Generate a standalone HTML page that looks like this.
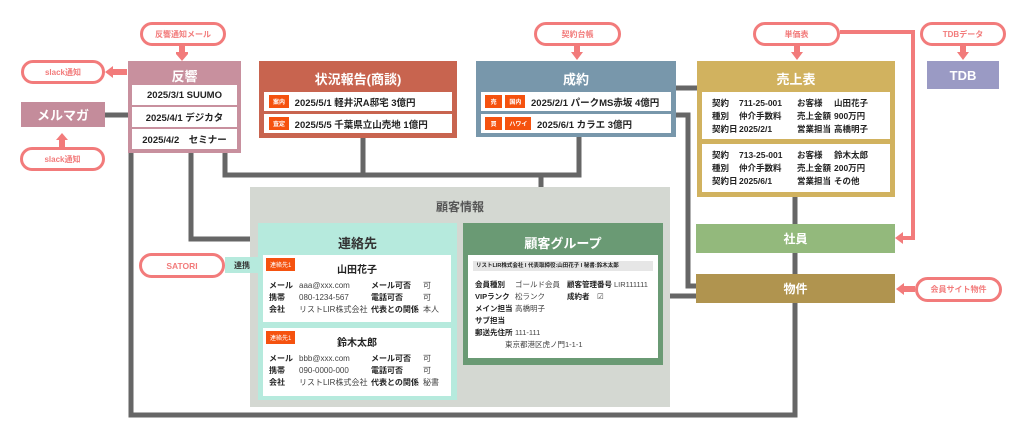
<!DOCTYPE html>
<html><head><meta charset="utf-8">
<style>
*{margin:0;padding:0;box-sizing:border-box}
body{width:1024px;height:437px;background:#fff;position:relative;overflow:hidden;font-family:"Liberation Sans","Noto Sans CJK JP",sans-serif;color:#222}
.a{position:absolute}
.pill{position:absolute;border:3px solid #f27b7b;border-radius:13px;background:#fff;color:#f27b7b;font-size:8px;font-weight:bold;display:flex;align-items:center;justify-content:center;white-space:nowrap}
.box{position:absolute;color:#fff;font-weight:bold}
.ttl{position:absolute;left:0;right:0;text-align:center;font-size:13px}
.row{position:absolute;background:#fff;color:#222;font-size:9.5px;font-weight:bold;display:flex;align-items:center;white-space:nowrap}
.tag{background:#f5520f;color:#fff;font-size:6px;padding:2px 4px;margin-right:3px}
.sm{font-size:8px;line-height:12px;color:#222;position:absolute;white-space:nowrap}
.sm b,.sm i{display:inline-block;font-style:normal}
.sm i{font-weight:normal;color:#444}
.uk span{display:inline-block}
</style></head><body>
<svg class="a" style="left:0;top:0" width="1024" height="437">
<g stroke="#666" stroke-width="5" fill="none">
<path d="M131 150 V415 H795 V300"/>
<path d="M191 150 V239 H258"/>
<path d="M225 150 V175 H579 V137"/>
<path d="M363 137 V175"/>
<path d="M541 175 V225"/>
<path d="M105 115 H128"/>
<path d="M676 88 H697"/>
<path d="M676 115 H688 V286 H697"/>
<path d="M660 296 H697"/>
<path d="M795 196 V275"/>
</g>
<rect x="457" y="287" width="6" height="11" fill="#666"/>
<g stroke="#f27b7b" stroke-width="4" fill="none">
<path d="M840 32 H913 V238 H902"/>
</g>
<g fill="#f27b7b">
<path d="M895 238 l8 -6 v12z"/>
<path d="M176 52 h12 v2 l-6 7 l-6 -7z" /><rect x="179" y="45" width="6" height="8"/>
<path d="M105 72 l8 -6 v12z"/><rect x="112" y="69" width="15" height="6"/>
<path d="M62 133 l-6 7 h12z"/><rect x="59" y="139" width="6" height="9"/>
<path d="M571 52 h12 l-6 8z"/><rect x="574" y="45" width="6" height="8"/>
<path d="M791 52 h12 l-6 8z"/><rect x="794" y="45" width="6" height="8"/>
<path d="M957 52 h12 l-6 8z"/><rect x="960" y="45" width="6" height="8"/>
<path d="M896 289 l8 -6 v12z"/><rect x="903" y="286" width="12" height="6"/>
</g>
</svg>

<div class="pill" style="left:140px;top:22px;width:86px;height:24px">反響通知メール</div>
<div class="pill" style="left:21px;top:60px;width:84px;height:24px">slack通知</div>
<div class="pill" style="left:20px;top:147px;width:85px;height:24px">slack通知</div>
<div class="pill" style="left:534px;top:22px;width:87px;height:24px">契約台帳</div>
<div class="pill" style="left:753px;top:22px;width:87px;height:24px">単価表</div>
<div class="pill" style="left:920px;top:22px;width:86px;height:24px">TDBデータ</div>
<div class="pill" style="left:915px;top:277px;width:87px;height:25px">会員サイト物件</div>
<div class="pill" style="left:139px;top:253px;width:86px;height:25px;font-size:8.5px">SATORI</div>

<div class="box" style="left:21px;top:102px;width:84px;height:25px;background:#c48c9b;font-size:13px;display:flex;align-items:center;justify-content:center">メルマガ</div>

<div class="box" style="left:128px;top:61px;width:113px;height:92px;background:#c8909e">
<div class="ttl" style="top:5px">反響</div>
<div class="row" style="left:4px;top:24px;width:105px;height:20px;justify-content:center">2025/3/1 SUUMO</div>
<div class="row" style="left:4px;top:46px;width:105px;height:20px;justify-content:center">2025/4/1 デジカタ</div>
<div class="row" style="left:4px;top:68px;width:105px;height:20px;justify-content:center">2025/4/2　セミナー</div>
</div>

<div class="box" style="left:259px;top:61px;width:198px;height:77px;background:#c8644f">
<div class="ttl" style="top:8px">状況報告(商談)</div>
<div class="row" style="left:5px;top:31px;width:188px;height:19px;padding-left:5px"><span class="tag">案内</span>&nbsp;2025/5/1 軽井沢A邸宅 3億円</div>
<div class="row" style="left:5px;top:53px;width:188px;height:19px;padding-left:5px"><span class="tag">査定</span>&nbsp;2025/5/5 千葉県立山売地 1億円</div>
</div>

<div class="box" style="left:476px;top:61px;width:200px;height:76px;background:#7897ab">
<div class="ttl" style="top:8px">成約</div>
<div class="row" style="left:5px;top:31px;width:190px;height:19px;padding-left:4px"><span class="tag">&nbsp;売&nbsp;</span><span class="tag">国内</span>&nbsp;2025/2/1 パークMS赤坂 4億円</div>
<div class="row" style="left:5px;top:53px;width:190px;height:19px;padding-left:4px"><span class="tag">&nbsp;買&nbsp;</span><span class="tag">ハワイ</span>&nbsp;2025/6/1 カラエ 3億円</div>
</div>

<div class="box" style="left:697px;top:61px;width:198px;height:136px;background:#d1b25f">
<div class="ttl" style="top:8px">売上表</div>
<div class="row uk" style="left:5px;top:31px;width:188px;height:47px;display:block;padding:5px 0 0 10px;font-size:8.5px;line-height:13px">
<div><span style="width:27px">契約</span><span style="width:58px">711-25-001</span><span style="width:37px">お客様</span>山田花子</div>
<div><span style="width:27px">種別</span><span style="width:58px">仲介手数料</span><span style="width:37px">売上金額</span>900万円</div>
<div><span style="width:27px">契約日</span><span style="width:58px">2025/2/1</span><span style="width:37px">営業担当</span>高橋明子</div>
</div>
<div class="row uk" style="left:5px;top:83px;width:188px;height:48px;display:block;padding:5px 0 0 10px;font-size:8.5px;line-height:13px">
<div><span style="width:27px">契約</span><span style="width:58px">713-25-001</span><span style="width:37px">お客様</span>鈴木太郎</div>
<div><span style="width:27px">種別</span><span style="width:58px">仲介手数料</span><span style="width:37px">売上金額</span>200万円</div>
<div><span style="width:27px">契約日</span><span style="width:58px">2025/6/1</span><span style="width:37px">営業担当</span>その他</div>
</div>
</div>

<div class="box" style="left:927px;top:61px;width:72px;height:28px;background:#9a9ac4;font-size:13px;display:flex;align-items:center;justify-content:center">TDB</div>
<div class="box" style="left:696px;top:224px;width:199px;height:29px;background:#93b97c;font-size:12px;display:flex;align-items:center;justify-content:center">社員</div>
<div class="box" style="left:696px;top:274px;width:199px;height:29px;background:#b0944f;font-size:12px;display:flex;align-items:center;justify-content:center">物件</div>

<div class="a" style="left:250px;top:187px;width:420px;height:220px;background:#d4d8d2"></div>
<div class="a" style="left:250px;top:198px;width:420px;text-align:center;font-size:12px;font-weight:bold;color:#555">顧客情報</div>

<div class="a" style="left:225px;top:257px;width:34px;height:16px;background:#b6eadd;font-size:8px;font-weight:bold;display:flex;align-items:center;justify-content:center;color:#333">連携</div>

<div class="a" style="left:258px;top:223px;width:199px;height:177px;background:#b6eadd">
<div class="ttl" style="top:10px;color:#333;font-weight:bold">連絡先</div>
<div class="a" style="left:5px;top:32px;width:188px;height:67px;background:#fff">
<span class="tag a" style="left:3px;top:3px">連絡先1</span>
<div class="a" style="left:0;right:0;top:6px;text-align:center;font-size:10px;font-weight:bold">山田花子</div>
<div class="sm" style="left:6px;top:25px"><b style="width:30px">メール</b><i style="width:72px">aaa@xxx.com</i><b style="width:52px">メール可否</b><i>可</i><br><b style="width:30px">携帯</b><i style="width:72px">080-1234-567</i><b style="width:52px">電話可否</b><i>可</i><br><b style="width:30px">会社</b><i style="width:72px">リストLIR株式会社</i><b style="width:52px">代表との関係</b><i>本人</i></div>
</div>
<div class="a" style="left:5px;top:105px;width:188px;height:68px;background:#fff">
<span class="tag a" style="left:3px;top:3px">連絡先1</span>
<div class="a" style="left:0;right:0;top:6px;text-align:center;font-size:10px;font-weight:bold">鈴木太郎</div>
<div class="sm" style="left:6px;top:25px"><b style="width:30px">メール</b><i style="width:72px">bbb@xxx.com</i><b style="width:52px">メール可否</b><i>可</i><br><b style="width:30px">携帯</b><i style="width:72px">090-0000-000</i><b style="width:52px">電話可否</b><i>可</i><br><b style="width:30px">会社</b><i style="width:72px">リストLIR株式会社</i><b style="width:52px">代表との関係</b><i>秘書</i></div>
</div>
</div>

<div class="a" style="left:463px;top:223px;width:200px;height:142px;background:#6a9a74">
<div class="ttl" style="top:10px;color:#fff;font-weight:bold">顧客グループ</div>
<div class="a" style="left:5px;top:32px;width:190px;height:103px;background:#fff">
<div class="a" style="left:5px;top:6px;width:180px;height:10px;background:#e6e6e6;font-size:5.5px;font-weight:bold;line-height:10px;padding-left:3px;white-space:nowrap;overflow:hidden">リストLIR株式会社 I 代表取締役:山田花子 I 秘書:鈴木太郎</div>
<div class="sm" style="left:7px;top:24px;font-size:7.5px"><b style="width:40px">会員種別</b><i style="width:52px">ゴールド会員</i><b style="width:47px">顧客管理番号</b><i>LIR111111</i><br><b style="width:40px">VIPランク</b><i style="width:52px">松ランク</i><b style="width:30px">成約者</b><i>☑</i><br><b style="width:40px">メイン担当</b><i>高橋明子</i><br><b>サブ担当</b><br><b style="width:40px">郵送先住所</b><i>111-111</i><br><i style="padding-left:30px">東京都港区虎ノ門1-1-1</i></div>
</div>
</div>
</body></html>
